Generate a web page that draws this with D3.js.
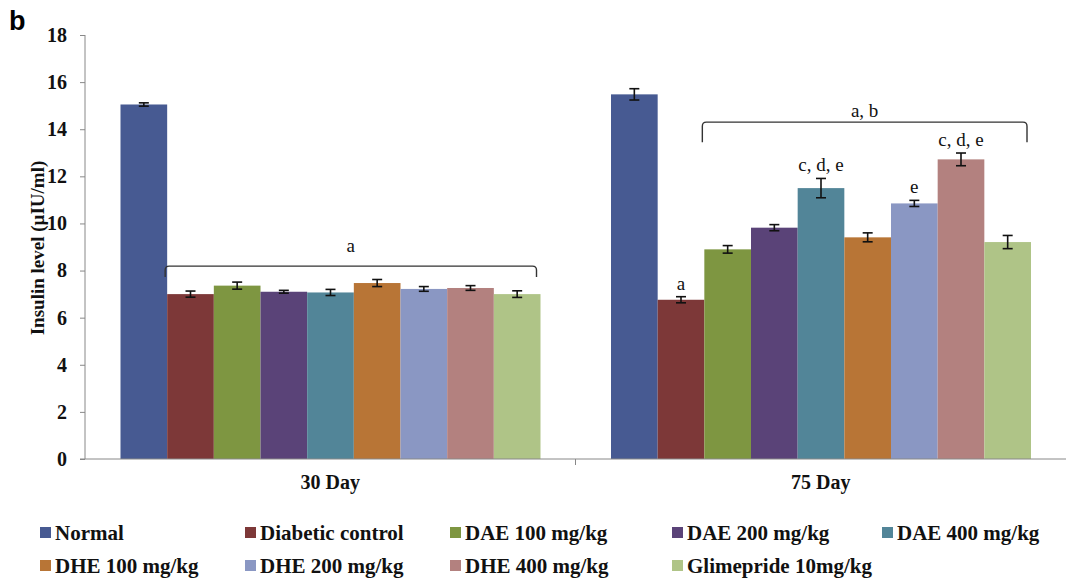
<!DOCTYPE html>
<html>
<head>
<meta charset="utf-8">
<script src="https://cdn.jsdelivr.net/npm/d3@7"></script>
<style>
  body { margin: 0; background: #fff; }
</style>
</head>
<body>
<div id="chart-area"></div>
<script>
// Data
let days = ["30 Day", "75 Day"];
let groups = ["Normal", "Diabetic control", "DAE 100 mg/kg", "DAE 200 mg/kg", "DAE 400 mg/kg",
              "DHE 100 mg/kg", "DHE 200 mg/kg", "DHE 400 mg/kg", "Glimepride 10mg/kg"];
let colors = ["#475a92", "#7d3838", "#7e9641", "#5a4378", "#528598", "#b87536", "#8a97c3", "#b3817f", "#afc487"];
let day30 = [15.05, 7.0, 7.36, 7.1, 7.07, 7.47, 7.22, 7.26, 7.0];
let err30 = [0.07, 0.13, 0.15, 0.06, 0.13, 0.15, 0.1, 0.1, 0.14];
let day75 = [15.48, 6.76, 8.9, 9.82, 11.5, 9.41, 10.85, 12.72, 9.21];
let err75 = [0.24, 0.13, 0.16, 0.13, 0.41, 0.19, 0.13, 0.27, 0.28];
let marks75 = ["", "a", "", "", "c, d, e", "", "e", "c, d, e", ""];
let yTicks = [0, 2, 4, 6, 8, 10, 12, 14, 16, 18];
let brackets = [
    {day: "30 Day", from: 1, to: 8, level: 8.19, drop: 11, label: "a", lift: 14},
    {day: "75 Day", from: 2, to: 8, level: 14.3, drop: 20, label: "a, b", lift: 5}
];

let values = {"30 Day": day30, "75 Day": day75};
let errors = {"30 Day": err30, "75 Day": err75};
let marks = {"30 Day": groups.map(() => ""), "75 Day": marks75};

let serif = "'Liberation Serif', 'Times New Roman', serif";

let W = 1066, H = 581;
let svg = d3.select("#chart-area").append("svg")
    .attr("width", W)
    .attr("height", H);

// Scales
let x0 = d3.scaleBand()
    .domain(days)
    .range([85, 1066]);

let x1 = d3.scaleBand()
    .domain(groups)
    .range([35.5, x0.bandwidth() - 35]);

let y = d3.scaleLinear()
    .domain([0, 18])
    .range([459, 35]);

// Bars
let rows = [];
days.forEach(d => groups.forEach((g, i) => {
    rows.push({day: d, group: g, i: i, value: values[d][i], err: errors[d][i], mark: marks[d][i]});
}));

svg.selectAll(".bar")
    .data(rows)
    .enter()
    .append("rect")
    .attr("class", "bar")
    .attr("x", d => x0(d.day) + x1(d.group))
    .attr("y", d => y(d.value))
    .attr("width", x1.bandwidth())
    .attr("height", d => y(0) - y(d.value))
    .attr("fill", (d) => colors[d.i]);

// Error bars
let eb = svg.selectAll(".err")
    .data(rows)
    .enter()
    .append("g")
    .attr("class", "err")
    .attr("stroke", "#111")
    .attr("stroke-width", 1.6);

eb.append("line")
    .attr("x1", d => x0(d.day) + x1(d.group) + x1.bandwidth() / 2)
    .attr("x2", d => x0(d.day) + x1(d.group) + x1.bandwidth() / 2)
    .attr("y1", d => y(d.value - d.err))
    .attr("y2", d => y(d.value + d.err));

[1, -1].forEach(s => {
    eb.append("line")
        .attr("x1", d => x0(d.day) + x1(d.group) + x1.bandwidth() / 2 - 5)
        .attr("x2", d => x0(d.day) + x1(d.group) + x1.bandwidth() / 2 + 5)
        .attr("y1", d => y(d.value + s * d.err))
        .attr("y2", d => y(d.value + s * d.err));
});

// Letters above bars
svg.selectAll(".mark")
    .data(rows.filter(d => d.mark))
    .enter()
    .append("text")
    .attr("class", "mark")
    .attr("x", d => x0(d.day) + x1(d.group) + x1.bandwidth() / 2)
    .attr("y", d => y(d.value + d.err) - 7)
    .attr("text-anchor", "middle")
    .style("font-family", serif)
    .style("font-size", "19px")
    .attr("fill", "#111")
    .text(d => d.mark);

// Brackets
brackets.forEach(b => {
    let xa = x0(b.day) + x1(groups[b.from]) - 2;
    let xb = x0(b.day) + x1(groups[b.to]) + x1.bandwidth() - 4;
    let yb = y(b.level);
    let path = d3.path();
    path.moveTo(xa, yb + b.drop);
    path.lineTo(xa, yb + 4);
    path.quadraticCurveTo(xa, yb, xa + 4, yb);
    path.lineTo(xb - 4, yb);
    path.quadraticCurveTo(xb, yb, xb, yb + 4);
    path.lineTo(xb, yb + b.drop);
    svg.append("path")
        .attr("d", path.toString())
        .attr("fill", "none")
        .attr("stroke", "#333")
        .attr("stroke-width", 1.4);
    svg.append("text")
        .attr("x", (xa + xb) / 2)
        .attr("y", yb - b.lift)
        .attr("text-anchor", "middle")
        .style("font-family", serif)
        .style("font-size", "19px")
        .attr("fill", "#111")
        .text(b.label);
});

// Axes
let yAxis = d3.axisLeft(y)
    .tickValues(yTicks)
    .tickSize(5)
    .tickPadding(13);

let yAxisGroup = svg.append("g")
    .attr("transform", "translate(85,0)")
    .call(yAxis);
yAxisGroup.select(".domain").attr("stroke", "#888").attr("d", "M0,35V459");
yAxisGroup.selectAll(".tick line").attr("stroke", "#888");
yAxisGroup.selectAll(".tick text")
    .style("font-family", serif)
    .style("font-size", "20px")
    .style("font-weight", "bold")
    .attr("fill", "#111");

let xAxisGroup = svg.append("g")
    .attr("transform", "translate(0," + y(0) + ")");
xAxisGroup.append("line")
    .attr("x1", 80).attr("x2", 1066)
    .attr("stroke", "#888");
xAxisGroup.selectAll(".xtick")
    .data(days.slice(1))
    .enter()
    .append("line")
    .attr("x1", d => x0(d)).attr("x2", d => x0(d))
    .attr("y1", 0).attr("y2", 6)
    .attr("stroke", "#888");
xAxisGroup.selectAll(".xlabel")
    .data(days)
    .enter()
    .append("text")
    .attr("x", d => x0(d) + x0.bandwidth() / 2)
    .attr("y", 30)
    .attr("text-anchor", "middle")
    .style("font-family", serif)
    .style("font-size", "20px")
    .style("font-weight", "bold")
    .attr("fill", "#111")
    .text(d => d);

svg.append("text")
    .attr("transform", "translate(44,248) rotate(-90)")
    .attr("text-anchor", "middle")
    .style("font-family", serif)
    .style("font-size", "19px")
    .style("font-weight", "bold")
    .attr("fill", "#111")
    .text("Insulin level (µIU/ml)");

// Panel letter
svg.append("text")
    .attr("x", 9)
    .attr("y", 30)
    .style("font-family", "Arial, 'Liberation Sans', sans-serif")
    .style("font-size", "27px")
    .style("font-weight", "bold")
    .text("b");

// Legend
let colX = [40, 245, 450, 672, 882];
let legend = svg.selectAll(".legend")
    .data(groups)
    .enter()
    .append("g")
    .attr("class", "legend")
    .attr("transform", (d, i) => "translate(" + colX[i % 5] + "," + (i < 5 ? 533 : 566) + ")");

legend.append("rect")
    .attr("x", 0).attr("y", -6)
    .attr("width", 11).attr("height", 11)
    .attr("fill", (d, i) => colors[i]);

legend.append("text")
    .attr("x", 15)
    .attr("y", 7)
    .style("font-family", serif)
    .style("font-size", "21px")
    .style("font-weight", "bold")
    .attr("fill", "#111")
    .text(d => d);
</script>
</body>
</html>
